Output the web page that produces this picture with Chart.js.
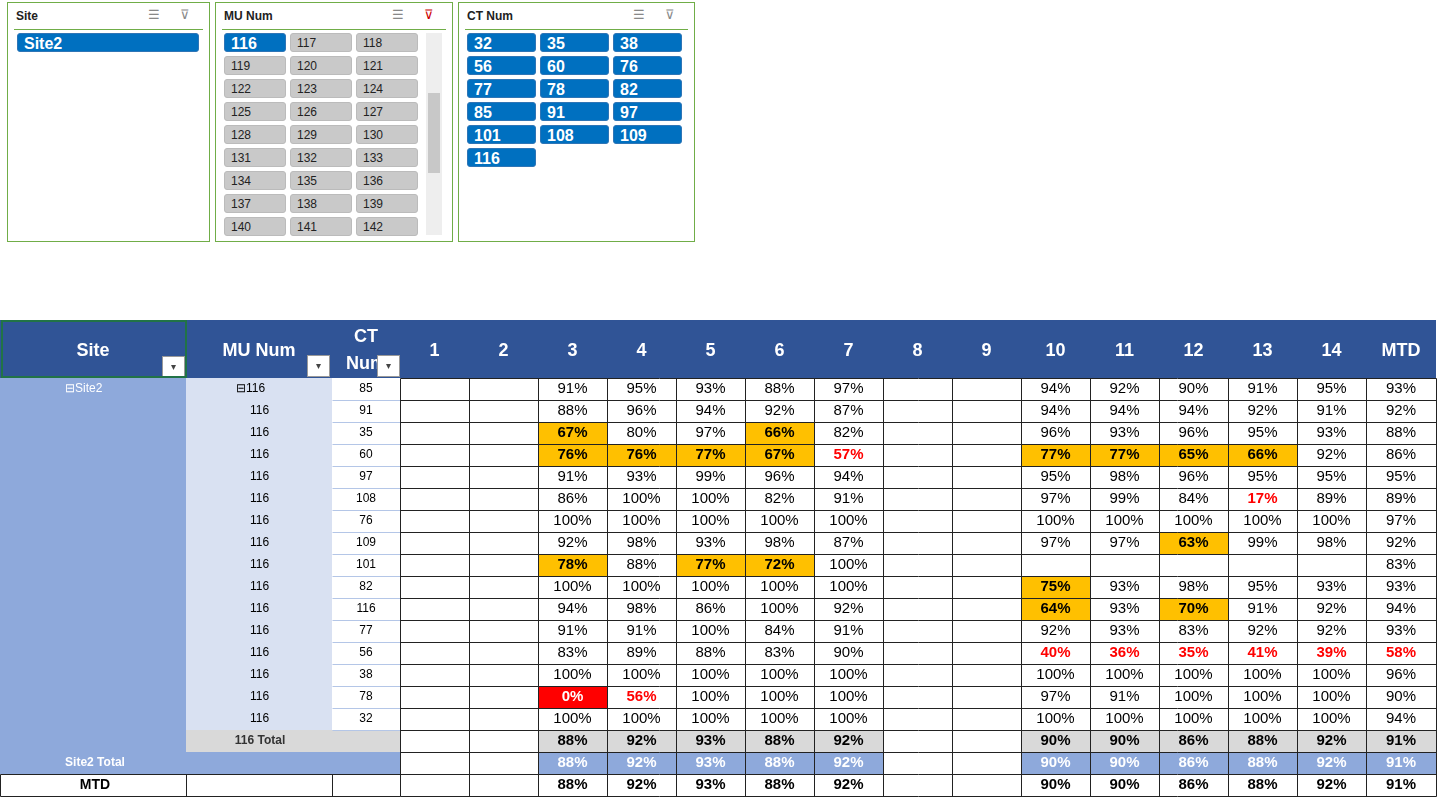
<!DOCTYPE html>
<html><head><meta charset="utf-8">
<script src="https://cdn.jsdelivr.net/npm/chart.js@4"></script>
<style>
body{margin:0;background:#fff;font-family:"Liberation Sans",Arial,sans-serif;width:1443px;height:804px;overflow:hidden;position:relative}
.sl{position:absolute;top:2px;height:238px;border:1px solid #70AD47;background:#fff}
.sl .t{position:absolute;left:8px;top:6px;font-size:12px;font-weight:bold;color:#222}
.sl .ln{position:absolute;left:6px;right:6px;top:26px;border-top:1px solid #70AD47}
.sl .ic{position:absolute;top:4px;font-size:13px;color:#888}
.b{position:absolute;height:19px;border-radius:3px;font-size:12px;line-height:19px;padding-left:6px;box-sizing:border-box}
.on{background:#0070C0;color:#fff;font-weight:bold;font-size:16px;border:1px solid #2E75B6}
.off{background:#C9C9C9;color:#222;border:1px solid #bbb}
#wrap{position:absolute;left:0;top:320px}
</style></head><body>
<div class="sl" style="left:7px;width:201px"><div class="t">Site</div><div class="ic" style="left:140px">☰</div><div class="ic" style="left:172px">⊽</div><div class="ln"></div><div id="s1"></div></div>
<div class="sl" style="left:215px;width:236px"><div class="t">MU Num</div><div class="ic" style="left:176px">☰</div><div class="ic" style="left:208px;color:#c00">⊽</div><div class="ln"></div><div id="s2"></div>
<div style="position:absolute;left:210px;top:30px;width:16px;height:202px;background:#eee"><div style="position:absolute;left:2px;top:60px;width:12px;height:80px;background:#C8C8C8"></div></div></div>
<div class="sl" style="left:458px;width:235px"><div class="t">CT Num</div><div class="ic" style="left:174px">☰</div><div class="ic" style="left:206px">⊽</div><div class="ln"></div><div id="s3"></div></div>
<div id="wrap"><canvas id="c" width="1443" height="484"></canvas></div>
<script>
var sites = ['Site2'];
var muNums = [116,117,118,119,120,121,122,123,124,125,126,127,128,129,130,131,132,133,134,135,136,137,138,139,140,141,142];
var ctSlicer = [32,35,38,56,60,76,77,78,82,85,91,97,101,108,109,116];
var days = ['1','2','3','4','5','6','7','8','9','10','11','12','13','14'];
var cts = [85,91,35,60,97,108,76,109,101,82,116,77,56,38,78,32];
var N = null;
var rows = [
  [N,N,91,95,93,88,97,N,N,94,92,90,91,95],
  [N,N,88,96,94,92,87,N,N,94,94,94,92,91],
  [N,N,67,80,97,66,82,N,N,96,93,96,95,93],
  [N,N,76,76,77,67,57,N,N,77,77,65,66,92],
  [N,N,91,93,99,96,94,N,N,95,98,96,95,95],
  [N,N,86,100,100,82,91,N,N,97,99,84,17,89],
  [N,N,100,100,100,100,100,N,N,100,100,100,100,100],
  [N,N,92,98,93,98,87,N,N,97,97,63,99,98],
  [N,N,78,88,77,72,100,N,N,N,N,N,N,N],
  [N,N,100,100,100,100,100,N,N,75,93,98,95,93],
  [N,N,94,98,86,100,92,N,N,64,93,70,91,92],
  [N,N,91,91,100,84,91,N,N,92,93,83,92,92],
  [N,N,83,89,88,83,90,N,N,40,36,35,41,39],
  [N,N,100,100,100,100,100,N,N,100,100,100,100,100],
  [N,N,0,56,100,100,100,N,N,97,91,100,100,100],
  [N,N,100,100,100,100,100,N,N,100,100,100,100,100]
];
var mtd = [93,92,88,86,95,89,97,92,83,93,94,93,58,96,90,94];
var totals = [N,N,88,92,93,88,92,N,N,90,90,86,88,92];
var totalMtd = 91;

// slicers
function addBtns(id, list, x0, w, cols, cls, big){
  var el = document.getElementById(id);
  list.forEach(function(v,i){
    var d = document.createElement('div');
    var on = cls(v);
    d.className = 'b ' + (on?'on':'off');
    d.style.left = (x0 + (i%cols)*(w+4)) + 'px';
    d.style.top = (30 + Math.floor(i/cols)*23) + 'px';
    d.style.width = w + 'px';
    if(on && !big) d.style.fontSize='16px';
    d.textContent = v;
    el.appendChild(d);
  });
}
addBtns('s1', sites, 9, 182, 1, function(){return true});
addBtns('s2', muNums, 8, 62, 3, function(v){return v===116});
addBtns('s3', ctSlicer, 8, 69, 3, function(){return true});

// layout
var colEdges = [0,186,332,400];
for (var i=1;i<=15;i++) colEdges.push(400+69*i);
colEdges[colEdges.length-1] = 1436;
var headH = 58, rowH = 22;

var tablePlugin = {
  id:'table',
  afterDraw: function(chart){
    var ctx = chart.ctx, xs = chart.scales.x, ys = chart.scales.y;
    function X(v){return xs.getPixelForValue(v);}
    function Y(v){return ys.getPixelForValue(v);}
    function rowTop(r){return headH + rowH*r;}
    function rect(x0,y0,x1,y1,fill){ctx.fillStyle=fill;ctx.fillRect(X(x0),Y(y0),X(x1)-X(x0),Y(y1)-Y(y0));}
    function txt(s,x,y,font,color,align){ctx.font=font;ctx.fillStyle=color;ctx.textAlign=align||'center';ctx.textBaseline='middle';ctx.fillText(s,X(x),Y(y));}
    function line(x0,y0,x1,y1,c,w){ctx.strokeStyle=c;ctx.lineWidth=w||1;ctx.beginPath();ctx.moveTo(Math.round(X(x0))+0.5,Math.round(Y(y0))+0.5);ctx.lineTo(Math.round(X(x1))+0.5,Math.round(Y(y1))+0.5);ctx.stroke();}
    var nR = cts.length;
    // header
    rect(0,0,1436,headH,'#305496');
    var hf = 'bold 18px "Liberation Sans",Arial';
    txt('Site',93,31,hf,'#fff');
    txt('MU Num',259,31,hf,'#fff');
    txt('CT',366,17,hf,'#fff'); txt('Num',366,44,hf,'#fff');
    days.concat(['MTD']).forEach(function(d,i){ txt(d,(colEdges[3+i]+colEdges[4+i])/2,31,hf,'#fff'); });
    [[162,36],[307,35],[377,35]].forEach(function(p){
      rect(p[0],p[1],p[0]+22,p[1]+21,'#fff');
      ctx.strokeStyle='#999';ctx.strokeRect(X(p[0])+0.5,Y(p[1])+0.5,22,21);
      txt('▾',p[0]+11,p[1]+11,'10px sans-serif','#444');
    });
    ctx.strokeStyle='#217346';ctx.lineWidth=2;ctx.strokeRect(X(2),Y(1),184,56);
    // left columns
    rect(0,headH,186,rowTop(nR+2),'#8EA9DB');
    rect(186,headH,332,rowTop(nR),'#D9E1F2');
    rect(186,rowTop(nR),400,rowTop(nR+1),'#D9D9D9');
    rect(186,rowTop(nR+1),400,rowTop(nR+2),'#8EA9DB');
    var sf = '12px "Liberation Sans",Arial';
    txt('⊟Site2',65,rowTop(0)+11,sf,'#fff','left');
    cts.forEach(function(ct,r){
      var yc = rowTop(r)+11;
      txt(r===0?'⊟116':'116',r===0?236:250,yc,sf,'#000','left');
      txt(String(ct),366,yc,sf,'#000');
      line(332,rowTop(r+1),400,rowTop(r+1),'#B4C6E7');
    });
    txt('116 Total',260,rowTop(nR)+11,'bold 12px "Liberation Sans",Arial','#333');
    txt('Site2 Total',95,rowTop(nR+1)+11,'bold 12px "Liberation Sans",Arial','#fff');
    txt('MTD',95,rowTop(nR+2)+11,'bold 14px "Liberation Sans",Arial','#000');
    // value cells
    function cell(v,c,r,kind){
      var x0=colEdges[3+c],x1=colEdges[4+c],y0=rowTop(r),yc=y0+11;
      var bold=false,color='#000',bg=null;
      if(kind==='t'){bold=true;bg='#D9D9D9';}
      else if(kind==='s'){bold=true;bg='#8EA9DB';color='#fff';}
      else if(kind==='m'){bold=true;}
      if(bg && v!==null) rect(x0,y0,x1,y0+rowH,bg);
      if(v===null) return;
      if(!kind){
        if(v===0){bg='#FF0000';color='#fff';bold=true;}
        else if(v<60){color='#FF0000';bold=true;}
        else if(v<80 && c<14){bg='#FFC000';bold=true;}
        if(bg) rect(x0,y0,x1,y0+rowH,bg);
      }
      txt(v+'%',(x0+x1)/2,yc,(bold?'bold ':'')+'15px "Liberation Sans",Arial',color);
    }
    rows.forEach(function(row,r){ row.concat([mtd[r]]).forEach(function(v,c){cell(v,c,r);}); });
    var tr = totals.concat([totalMtd]);
    tr.forEach(function(v,c){cell(v,c,nR,'t');cell(v,c,nR+1,'s');cell(v,c,nR+2,'m');});
    // grid
    for(var r=0;r<=nR+3;r++){ var y=r===0?headH:rowTop(r); line(400,y,1436,y,'#222'); }
    line(0,rowTop(nR+2),400,rowTop(nR+2),'#222');
    line(0,rowTop(nR+3),400,rowTop(nR+3),'#222');
    for(var k=3;k<colEdges.length;k++) line(colEdges[k],headH,colEdges[k],rowTop(nR+3),'#222');
    line(186,rowTop(nR+2),186,rowTop(nR+3),'#222');
    line(332,rowTop(nR+2),332,rowTop(nR+3),'#222');
    line(0,rowTop(nR+2),0,rowTop(nR+3),'#222');
  }
};

new Chart(document.getElementById('c'), {
  type:'scatter',
  data:{datasets:[{data:[],pointRadius:0}]},
  options:{
    responsive:false, animation:false, devicePixelRatio:1,
    layout:{padding:0},
    plugins:{legend:{display:false},tooltip:{enabled:false}},
    scales:{
      x:{type:'linear',min:0,max:1443,display:false},
      y:{type:'linear',min:0,max:484,reverse:true,display:false}
    }
  },
  plugins:[tablePlugin]
});
</script>
</body></html>
